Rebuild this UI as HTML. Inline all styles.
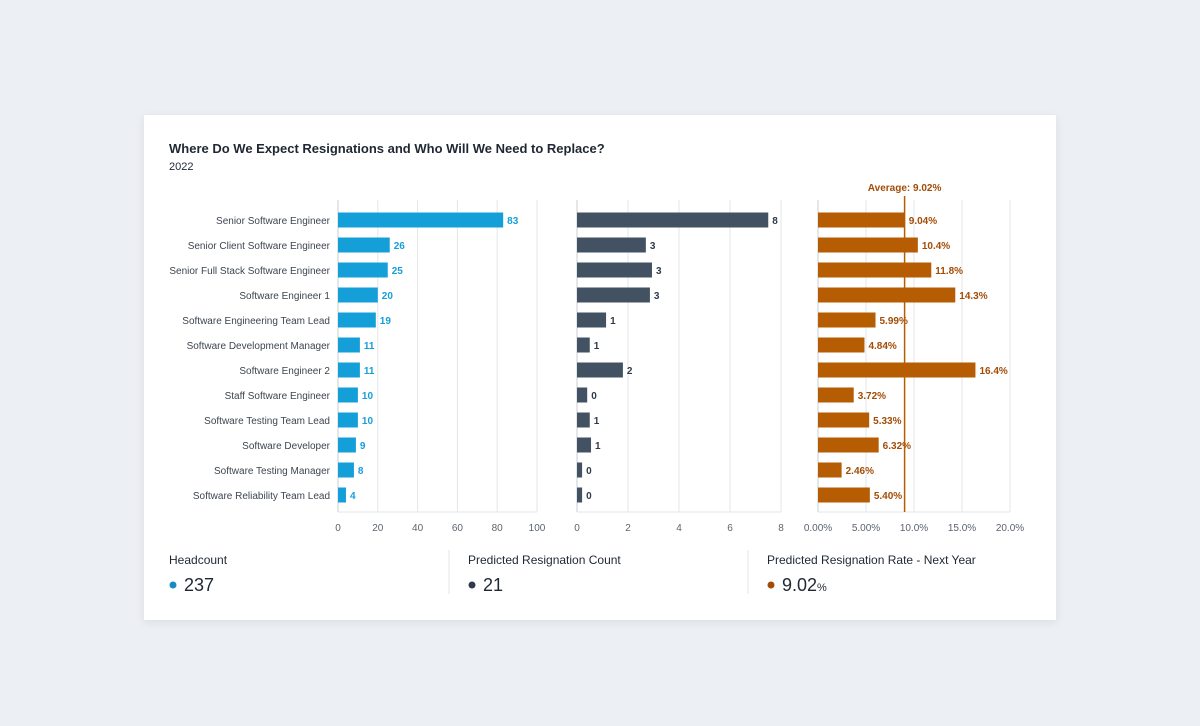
<!DOCTYPE html>
<html><head><meta charset="utf-8">
<style>
body{margin:0;width:1200px;height:726px;background:#eceff3;font-family:"Liberation Sans",sans-serif;overflow:hidden}
svg{position:absolute;left:0;top:0}
</style></head>
<body>
<svg id="c" width="1200" height="726">
<defs><filter id="sh" x="-5%" y="-5%" width="110%" height="115%"><feDropShadow dx="0" dy="2" stdDeviation="4" flood-color="#000" flood-opacity="0.08"/></filter></defs>
<rect x="144" y="115" width="912" height="505" fill="#fff" filter="url(#sh)"/>
<text x="169" y="153" font-size="13" font-weight="bold" fill="#1f2733">Where Do We Expect Resignations and Who Will We Need to Replace?</text>
<text x="169" y="170" font-size="11" fill="#1f2733">2022</text>
<g id="g"></g>
<line x1="449" y1="550" x2="449" y2="594" stroke="#e3e5e8"/>
<line x1="748" y1="550" x2="748" y2="594" stroke="#e3e5e8"/>
<g>
<text x="169" y="564" font-size="12" fill="#1f2733">Headcount</text>
<circle cx="173" cy="585" r="3.5" fill="#1a8ac4"/>
<text x="184" y="591" font-size="18" fill="#1f2733">237</text></g>
<g>
<text x="468" y="564" font-size="12" fill="#1f2733">Predicted Resignation Count</text>
<circle cx="472" cy="585" r="3.5" fill="#2f3b4a"/>
<text x="483" y="591" font-size="18" fill="#1f2733">21</text></g>
<g>
<text x="767" y="564" font-size="12" fill="#1f2733">Predicted Resignation Rate - Next Year</text>
<circle cx="771" cy="585" r="3.5" fill="#a34c06"/>
<text x="782" y="591" font-size="18" fill="#1f2733">9.02<tspan font-size="11">%</tspan></text></g>
</svg>
<script>
const categories=["Senior Software Engineer","Senior Client Software Engineer","Senior Full Stack Software Engineer","Software Engineer 1","Software Engineering Team Lead","Software Development Manager","Software Engineer 2","Staff Software Engineer","Software Testing Team Lead","Software Developer","Software Testing Manager","Software Reliability Team Lead"];
const headcount=[83,26,25,20,19,11,11,10,10,9,8,4];
const resignCount=[7.5,2.7,2.94,2.86,1.14,0.5,1.8,0.4,0.5,0.55,0.2,0.2];
const resignLabels=["8","3","3","3","1","1","2","0","1","1","0","0"];
const rate=[9.04,10.4,11.8,14.3,5.99,4.84,16.4,3.72,5.33,6.32,2.46,5.40];
const rateLabels=["9.04%","10.4%","11.8%","14.3%","5.99%","4.84%","16.4%","3.72%","5.33%","6.32%","2.46%","5.40%"];
const avgRate=9.02;
const hcTicks=[0,20,40,60,80,100];
const rcTicks=[0,2,4,6,8];
const rtTicks=[0,5,10,15,20];
const rtTickLabels=["0.00%","5.00%","10.0%","15.0%","20.0%"];
const NS="http://www.w3.org/2000/svg",g=document.getElementById('g');
function mk(t,a,txt){const e=document.createElementNS(NS,t);for(const k in a)e.setAttribute(k,a[k]);if(txt!=null)e.textContent=txt;g.appendChild(e);return e;}
const topY=200,botY=512,rowH=25,y0=220;
const yPos=i=>y0+i*rowH;
function panel(name,x0,x1,max,ticks,tickLabels,vals,labels,color,labColor){
  const sx=v=>x0+v/max*(x1-x0);
  ticks.forEach((t,i)=>{
    const l=mk('line',{x1:sx(t),x2:sx(t),y1:topY,y2:botY,stroke:i==0?'#c8ccd1':'#e3e5e8'});
    
    
    const tx=mk('text',{x:sx(t),y:531,'font-size':10,fill:'#5b6470','text-anchor':'middle'},tickLabels[i]);
    
    
  });
  const bl=mk('line',{x1:x0,x2:x1,y1:botY,y2:botY,stroke:'#e3e5e8'});
  
  
  vals.forEach((v,i)=>{
    const y=yPos(i);
    const r=mk('rect',{x:x0,y:y-7.5,width:Math.max(0,sx(v)-x0),height:15,fill:color});
    
    
    const t=mk('text',{x:sx(v)+4,y:y+4,'font-size':10,'font-weight':'bold',fill:labColor},labels[i]);
    
    
  });
  return sx;
}
categories.forEach((c,i)=>{
  const t=mk('text',{x:330,y:yPos(i)+4,'font-size':10,fill:'#3d4550','text-anchor':'end'},c);
  
  
});
panel('headcount',338,537,100,hcTicks,hcTicks.map(String),headcount,headcount.map(String),'#149fd9','#149fd9');
panel('resignation-count',577,781,8,rcTicks,rcTicks.map(String),resignCount,resignLabels,'#435263','#2f3b4a');
const sr=panel('resignation-rate',818,1010,20,rtTicks,rtTickLabels,rate,rateLabels,'#b65c02','#a34c06');
const al=mk('line',{x1:sr(avgRate),x2:sr(avgRate),y1:196,y2:botY,stroke:'#b65c02','stroke-width':1.5});


const at=mk('text',{x:sr(avgRate),y:191,'font-size':10,'font-weight':'bold',fill:'#a34c06','text-anchor':'middle'},'Average: 9.02%');


</script>
</body></html>
